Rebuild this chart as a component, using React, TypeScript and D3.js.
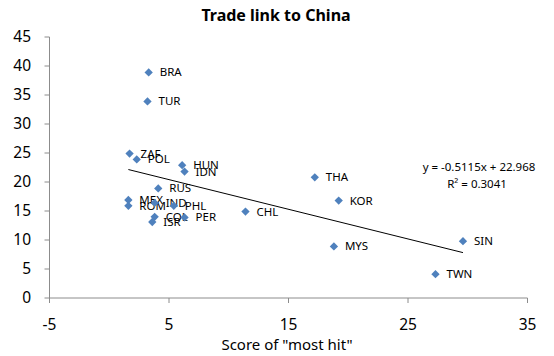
import React from "react";
import * as d3 from "d3";

const countries = ["BRA","TUR","ZAF","POL","HUN","IDN","RUS","MEX","ROM","IND","PHL","COL","ISR","PER","CHL","THA","KOR","MYS","SIN","TWN"];
const scoreMostHit = [3.3,3.2,1.7,2.3,6.1,6.3,4.1,1.6,1.6,3.8,5.4,3.8,3.6,6.3,11.4,17.2,19.2,18.8,29.6,27.3];
const tradeLink = [38.9,33.9,24.9,23.9,22.9,21.8,18.9,16.9,15.9,16.4,15.9,14.0,13.1,13.9,14.9,20.8,16.8,8.9,9.8,4.1];
const xTicks = [-5,5,15,25,35];
const yTicks = [0,5,10,15,20,25,30,35,40,45];
const slope = -0.5115;
const intercept = 22.968;
const r2 = "0.3041";

export default function App() {
  const W = 554, H = 356;
  const x = d3.scaleLinear().domain([-5, 35]).range([49.5, 527.5]);
  const y = d3.scaleLinear().domain([0, 45]).range([298, 37]);
  const font = "'Noto Sans', 'Open Sans', sans-serif";
  const axisColor = "#8c8c8c";
  const diamond = d3.symbol().type(d3.symbolDiamond2).size(44)();
  const xmin = d3.min(scoreMostHit) as number;
  const xmax = d3.max(scoreMostHit) as number;
  const line = d3.line<number>().x(v => x(v)).y(v => y(slope * v + intercept));
  return (
    <svg width={W} height={H} style={{ position: "absolute", left: 0, top: 0, background: "#fff" }} fontFamily={font}>
      <text x={276} y={21} textAnchor="middle" fontSize={16} fontWeight="bold" fill="#000">Trade link to China</text>
      {/* y axis */}
      <line x1={x(-5)} x2={x(-5)} y1={y(45)} y2={y(0)} stroke={axisColor} />
      {yTicks.map(t => (
        <g key={"y" + t}>
          <line x1={x(-5) - 5} x2={x(-5)} y1={y(t)} y2={y(t)} stroke={axisColor} />
          <text x={31} y={y(t)} dy="0.35em" textAnchor="end" fontSize={15.5} fill="#000">{t}</text>
        </g>
      ))}
      {/* x axis */}
      <line x1={x(-5)} x2={x(35)} y1={y(0)} y2={y(0)} stroke={axisColor} />
      {xTicks.map(t => (
        <g key={"x" + t}>
          <line x1={x(t)} x2={x(t)} y1={y(0)} y2={y(0) + 5} stroke={axisColor} />
          <text x={x(t)} y={325} dy="0.35em" textAnchor="middle" fontSize={15.5} fill="#000">{t}</text>
        </g>
      ))}
      <text x={287} y={345} dy="0.35em" textAnchor="middle" fontSize={15} fill="#000">Score of "most hit"</text>
      {/* trendline */}
      <path d={line([xmin, xmax]) || ""} stroke="#000" strokeWidth={1} fill="none" />
      {/* points */}
      {countries.map((c, i) => (
        <g key={c}>
          <path d={diamond || ""} transform={`translate(${x(scoreMostHit[i])},${y(tradeLink[i])})`} fill="#4F81BD" />
          <text x={x(scoreMostHit[i]) + 11} y={y(tradeLink[i])} dy="0.35em" fontSize={11.5} fill="#000">{c}</text>
        </g>
      ))}
      <text x={479} y={167} dy="0.35em" textAnchor="middle" fontSize={11.5} fill="#000">y = -0.5115x + 22.968</text>
      <text x={477} y={184} dy="0.35em" textAnchor="middle" fontSize={11.5} fill="#000">R² = {r2}</text>
    </svg>
  );
}
